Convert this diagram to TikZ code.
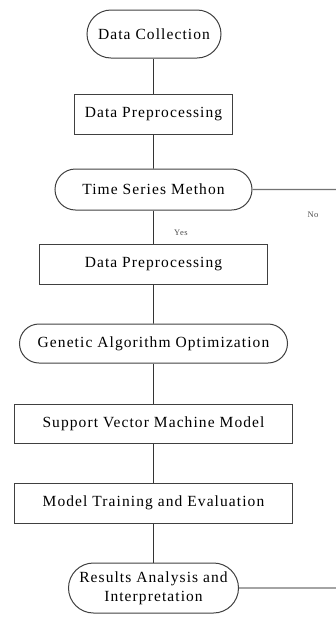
\documentclass[tikz,border=0pt]{standalone}
\usepackage{fontspec}
\setmainfont{Liberation Serif}[LetterSpace=7]
\usetikzlibrary{shapes.misc}

\tikzset{
    stadium/.style = {rounded rectangle, draw = black!75, line width = 1pt, inner sep = 0pt, font = \fontsize{15.5}{19}\selectfont, align = center},
    procbox/.style = {rectangle, draw = black!75, line width = 1pt, inner sep = 0pt, font = \fontsize{15.5}{19}\selectfont},
    link/.style = {draw = black!80, line width = 0.9pt},
    sidelink/.style = {draw = black!55, line width = 1.3pt},
    smalltext/.style = {font = \fontsize{8.5}{9}\selectfont, text = black!70}
}

\begin{document}
\begin{tikzpicture}[x=1pt, y=-1pt]

    \useasboundingbox (0,0) rectangle (336,619);

    \node[stadium, minimum width = 134pt, minimum height = 48pt] (collect) at (154,34) {Data Collection};
    \node[procbox, minimum width = 158pt, minimum height = 40pt] (prep) at (153.5,114) {Data Preprocessing};
    \node[stadium, minimum width = 197pt, minimum height = 41pt] (series) at (153.5,189.5) {Time Series Methon};
    \node[procbox, minimum width = 228pt, minimum height = 40pt] (prepb) at (153.5,264) {Data Preprocessing};
    \node[stadium, minimum width = 268pt, minimum height = 39pt] (genetic) at (153.5,343.5) {Genetic Algorithm Optimization};
    \node[procbox, minimum width = 278pt, minimum height = 39pt] (svm) at (153.5,423.5) {Support Vector Machine Model};
    \node[procbox, minimum width = 278pt, minimum height = 40pt] (train) at (153.5,503) {Model Training and Evaluation};
    \node[stadium, minimum width = 170pt, minimum height = 50pt] (results) at (153.5,588) {Results Analysis and\\Interpretation};

    \coordinate (noend) at (336,189.5);
    \coordinate (resend) at (336,588);

    \node[smalltext] (yes) at (181,233) {Yes};
    \node[smalltext] (no) at (313,215) {No};

    \draw[link] (prep.north) -- (prep.north |- collect.south);
    \foreach \a/\b in {prep/series,series/prepb,prepb/genetic,genetic/svm,svm/train,train/results}{
    \draw[link] (\a) -- (\b);
}

    \draw[sidelink] (series) -- (noend);
    \draw[sidelink] (results) -- (resend);

\end{tikzpicture}
\end{document}
